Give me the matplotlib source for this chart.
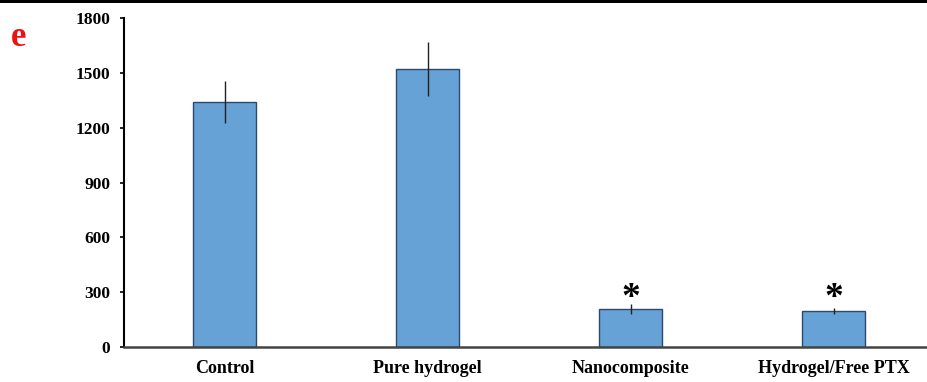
import matplotlib.pyplot as plt
from matplotlib.patches import Rectangle

# data
groups = ['Control', 'Pure hydrogel', 'Nanocomposite', 'Hydrogel/Free PTX']
values = [1340, 1520, 208, 197]
errors = [115, 147, 27, 15]
significant = [False, False, True, True]
yticks = [0, 300, 600, 900, 1200, 1500, 1800]

plt.rcParams['font.family'] = ['Liberation Serif', 'DejaVu Serif']
plt.rcParams['font.weight'] = 'bold'

fig = plt.figure(figsize=(9.27, 3.82), dpi=100)
ax = fig.add_axes([0.1338, 0.0916, 0.8662, 0.8613])

x = list(range(len(groups)))
ax.bar(x, values, width=0.31, color='#66A2D6', edgecolor='#2B4A6E', linewidth=1.0, zorder=2)
ax.errorbar(x, values, yerr=errors, fmt='none', ecolor='#222222', elinewidth=1.0, capsize=0, zorder=3)

# significance marks sit at a common height above the low bars
star_base = 215
for xi, s in zip(x, significant):
    if s:
        ax.text(xi, star_base, '*', ha='center', va='baseline', fontsize=27, fontweight='bold')

ax.set_xlim(-0.495, 3.46)
ax.set_ylim(0, 1800)
ax.set_yticks(yticks)
ax.set_yticklabels([str(t) for t in yticks], fontsize=12.5, fontweight='bold')
ax.set_xticks(x)
ax.set_xticklabels(groups, fontsize=13, fontweight='bold')
ax.tick_params(axis='x', length=0, pad=9)
ax.tick_params(axis='y', length=3, width=1.2, direction='out', pad=7)

for side in ['top', 'right']:
    ax.spines[side].set_visible(False)
ax.spines['left'].set_linewidth(1.5)
ax.spines['bottom'].set_linewidth(1.8)
ax.spines['bottom'].set_color('#444444')

fig.text(0.012, 0.88, 'e', color='#EE1111', fontsize=25, fontweight='bold')

# dark strip along the top edge (crop of the panel above)
fig.add_artist(Rectangle((0.0, 0.992), 1.0, 0.008, transform=fig.transFigure,
                         color='black', lw=0))

fig.savefig('out.png', dpi=100)
